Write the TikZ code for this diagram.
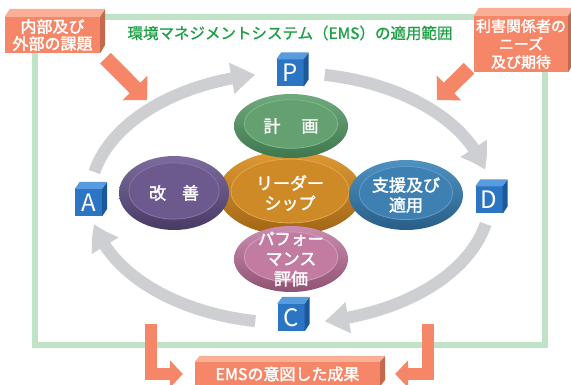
\documentclass[tikz,border=0pt]{standalone}
\usepackage{fontspec}
\setmainfont{Noto Sans CJK JP}
\newfontfamily\jpmed[FakeBold=2]{Noto Sans CJK JP}
\newfontfamily\jptitle[FakeBold=1]{Noto Sans CJK JP}
\usetikzlibrary{arrows.meta,bending,calc}
\definecolor{framegreen}{RGB}{192,226,198}
\definecolor{titlegreen}{RGB}{30,160,70}
\definecolor{arcgrey}{RGB}{206,207,210}
\definecolor{ofront}{RGB}{245,134,104}
\definecolor{otop}{RGB}{249,174,150}
\definecolor{oside}{RGB}{196,104,78}
\definecolor{cfront}{RGB}{44,117,194}
\definecolor{ctop}{RGB}{88,155,222}
\definecolor{cside}{RGB}{28,88,156}
% blob colours
\definecolor{gtop}{RGB}{112,170,124}\definecolor{gbot}{RGB}{62,118,78}\definecolor{gin}{RGB}{101,160,113}\definecolor{gln}{RGB}{128,186,139}
\definecolor{ytop}{RGB}{222,154,52}\definecolor{ybot}{RGB}{160,100,22}\definecolor{yin}{RGB}{207,138,40}\definecolor{yln}{RGB}{228,168,80}
\definecolor{vtop}{RGB}{124,108,158}\definecolor{vbot}{RGB}{72,58,100}\definecolor{vin}{RGB}{108,90,142}\definecolor{vln}{RGB}{134,118,166}
\definecolor{btop}{RGB}{78,146,194}\definecolor{bbot}{RGB}{40,94,134}\definecolor{bin}{RGB}{62,128,178}\definecolor{bln}{RGB}{94,158,204}
\definecolor{ktop}{RGB}{204,142,176}\definecolor{kbot}{RGB}{142,82,114}\definecolor{kin}{RGB}{194,124,162}\definecolor{kln}{RGB}{214,156,188}
\newcommand\EllBlob[6]{% name, centre, rx, ry, colour prefix, text
  \shade[top color=#5top, bottom color=#5bot] (#2) ellipse[x radius=#3, y radius=#4];
  \fill[fill=#5in, draw=#5ln, line width=0.8pt] ($(#2)+(0,-2)$) ellipse[x radius=0.82*#3, y radius=0.76*#4];
  \node[blobtext] (#1) at (#2) {#6};
}
\begin{document}
\begin{tikzpicture}[x=1pt,y=-1pt,
  frameline/.style={draw=framegreen, line width=6pt},
  greyarc/.style={draw=arcgrey, line width=12pt, -{Triangle[bend,width=30pt,length=24pt]}},
  oarrow/.style={draw=ofront, line width=15pt, -{Triangle[width=34pt,length=17pt]}},
  larrow/.style={draw=ofront, line width=12pt, line join=miter, -{Triangle[width=27pt,length=13pt]}},
  obox/.style={fill=ofront, text=white, inner sep=0pt, align=center},
  cube/.style={fill=cfront, text=white, inner sep=0pt, minimum width=27pt, minimum height=27pt, font=\fontsize{24}{24}\selectfont},
  blobtext/.style={text=white, align=center, inner sep=0pt, font=\jpmed\fontsize{17}{20}\selectfont}
]
\useasboundingbox (0,0) rectangle (571,385);
\fill[white] (0,0) rectangle (571,385);
% scope frame
\draw[frameline] (35,17) rectangle (545,345);
\node[text=titlegreen, font=\jptitle\fontsize{15.5}{16}\selectfont, inner sep=0pt] (title) at (290,33) {環境マネジメントシステム（EMS）の適用範囲};
% grey cycle arcs
\coordinate (cc) at (290,198);
\coordinate (a1) at ($(cc)+(192:200 and 125)$);
\coordinate (a2) at ($(cc)+(280:200 and 125)$);
\coordinate (a3) at ($(cc)+(12:200 and 125)$);
\coordinate (a4) at ($(cc)+(100:200 and 125)$);
\draw[greyarc] (a1) arc[start angle=192, end angle=260, x radius=200, y radius=125];
\draw[greyarc] (a2) arc[start angle=280, end angle=347, x radius=200, y radius=125];
\draw[greyarc] (a3) arc[start angle=12, end angle=80, x radius=200, y radius=125];
\draw[greyarc] (a4) arc[start angle=100, end angle=168, x radius=200, y radius=125];
% blobs
\EllBlob{lead}{290,193}{72}{42}{y}{リーダー\\シップ}
\EllBlob{imp}{174,193}{55}{37}{v}{改\hspace{16pt}善}
\EllBlob{sup}{406,195}{57}{35}{b}{支援及び\\適用}
\EllBlob{plan}{291,126}{57}{32}{g}{計\hspace{21pt}画}
\EllBlob{perf}{291,259}{57}{33}{k}{\fontsize{16.5}{18}\selectfont パフォー\\マンス\\評価}
% cubes
\foreach \nm/\pos/\lt in {P/{290,73}/P, A/{88.5,202.5}/A, D/{489,200}/D, C/{291,317.5}/C}{
  \node[cube] (\nm) at (\pos) {\lt};
  \fill[ctop] (\nm.north west) -- ++(5,-7) -- ++(27,0) -- (\nm.north east) -- cycle;
  \fill[cside] (\nm.north east) -- ++(5,-7) -- ++(0,27) -- (\nm.south east) -- cycle;
}
% orange boxes
\node[obox, minimum width=95pt, minimum height=36pt, font=\jpmed\fontsize{16}{17}\selectfont] (issues) at (52.5,35) {内部及び\\外部の課題};
\fill[otop] (issues.north west) -- ++(5,-8) -- ++(95,0) -- (issues.north east) -- cycle;
\fill[oside] (issues.north east) -- ++(5,-8) -- ++(0,36) -- (issues.south east) -- cycle;
\node[obox, minimum width=94pt, minimum height=56pt, font=\jpmed\fontsize{15}{18}\selectfont] (needs) at (521,44) {利害関係者の\\ニーズ\\及び期待};
\fill[otop] (needs.north west) -- ++(5,-8) -- ++(94,0) -- (needs.north east) -- cycle;
\fill[oside] (needs.north east) -- ++(5,-8) -- ++(0,56) -- (needs.south east) -- cycle;
\node[obox, minimum width=185pt, minimum height=24pt, font=\jpmed\fontsize{16}{16}\selectfont] (out) at (287.5,374) {EMSの意図した成果};
\fill[otop] (out.north west) -- ++(5,-6) -- ++(185,0) -- (out.north east) -- cycle;
\fill[oside] (out.north east) -- ++(5,-6) -- ++(0,24) -- (out.south east) -- cycle;
% orange arrows
\coordinate (t1) at (147,100);
\coordinate (t2) at (437,100);
\draw[oarrow] ($(issues.south)+(53,5)$) -- (t1);
\draw[oarrow] ($(needs.south)+(-52,-4)$) -- (t2);
\coordinate (l1s) at (151,324);
\coordinate (l2s) at (428,324);
\draw[larrow] (l1s) |- ($(out.west)+(-12,0)$);
\draw[larrow] (l2s) |- ($(out.east)+(15,0)$);
\end{tikzpicture}
\end{document}
